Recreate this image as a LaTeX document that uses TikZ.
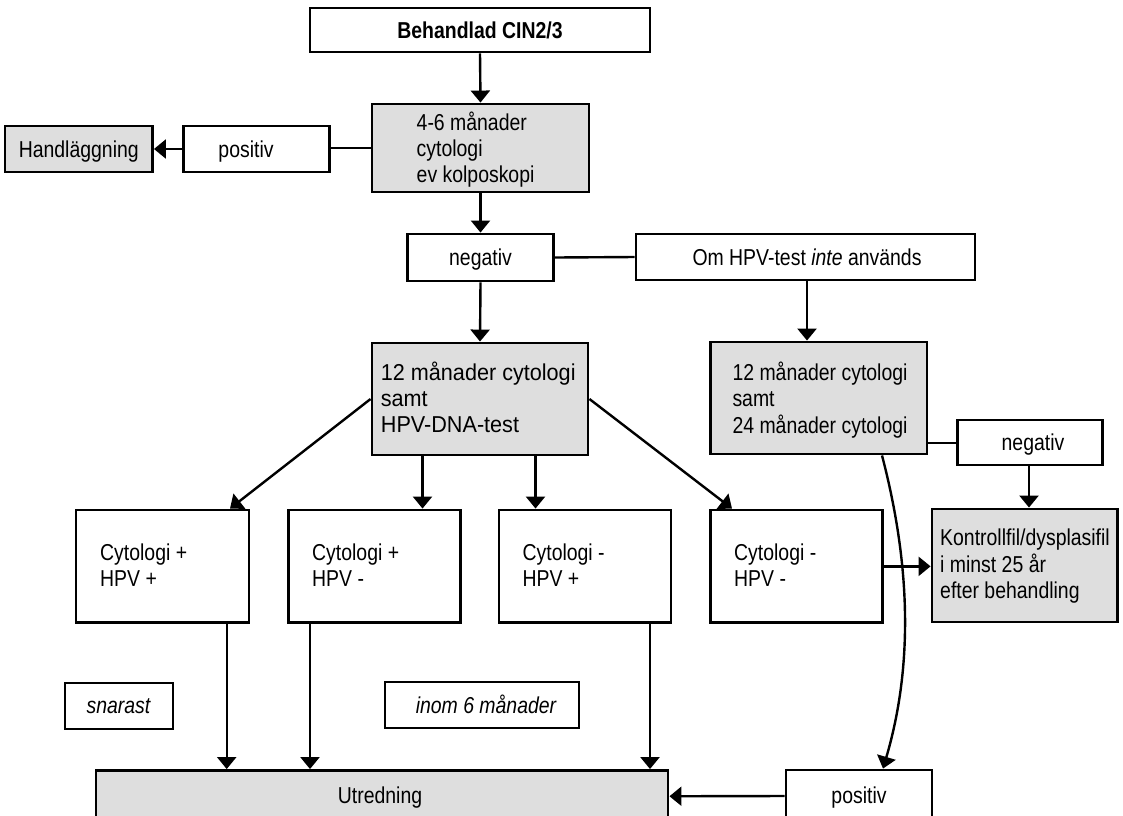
\documentclass[tikz,border=0pt]{standalone}
\usepackage{fontspec}
\setmainfont[FakeStretch=0.845]{Liberation Sans}
\newfontfamily\widefont[FakeStretch=0.94]{Liberation Sans}
\usetikzlibrary{arrows.meta}
\definecolor{boxgray}{RGB}{222,222,222}
\newcommand\mlines[1]{\begin{tabular}[t]{@{}l@{}}#1\end{tabular}}
\begin{document}
\begin{tikzpicture}[x=1pt,y=-1pt,
  font=\fontsize{23}{26}\selectfont,
  box/.style={draw, line width=2.9pt, inner sep=0pt, fill=white},
  gbox/.style={box, fill=boxgray},
  ln/.style={line width=2.4pt},
  arr/.style={ln, -{Triangle[width=19pt,length=12pt]}},
  lt/.style={inner sep=0pt, anchor=base west},
  ct/.style={inner sep=0pt, anchor=base}]
\fill[white] (0,0) rectangle (1123,815);
\useasboundingbox (0,0) rectangle (1123,815);

% boxes
\node[box,  minimum width=340pt, minimum height=44pt] (beh) at (480,30) {};
\node[gbox, minimum width=217pt, minimum height=88pt] (b46) at (480.5,148) {};
\node[gbox, minimum width=147.5pt, minimum height=46pt] (hand) at (78.75,149) {};
\node[box,  minimum width=146pt, minimum height=46pt] (pos1) at (256.5,149) {};
\node[box,  minimum width=146pt, minimum height=47pt] (neg1) at (480.5,257.5) {};
\node[box,  minimum width=339pt, minimum height=46pt] (om) at (805.5,257) {};
\node[gbox, minimum width=216pt, minimum height=112pt] (b12) at (480,399) {};
\node[gbox, minimum width=216.5pt, minimum height=112pt] (b24) at (818.75,398) {};
\node[box,  minimum width=145pt, minimum height=45pt] (neg2) at (1030,442.5) {};
\node[box,  minimum width=173pt, minimum height=112.7pt] (c1) at (162.5,566.35) {};
\node[box,  minimum width=172.2pt, minimum height=112.7pt] (c2) at (374.7,566.35) {};
\node[box,  minimum width=172pt, minimum height=112.7pt] (c3) at (585,566.35) {};
\node[box,  minimum width=172.2pt, minimum height=112.7pt] (c4) at (796.6,566.35) {};
\node[gbox, minimum width=185.5pt, minimum height=113pt] (kon) at (1024.75,565.5) {};
\node[box,  minimum width=108pt, minimum height=46pt] (sna) at (119,706) {};
\node[box,  minimum width=194pt, minimum height=46pt] (inom) at (482,705) {};
\node[gbox, minimum width=572pt, minimum height=51.5pt] (utr) at (382,796.25) {};
\node[box,  minimum width=146pt, minimum height=52pt] (posb) at (859,796) {};

% texts
\node[ct] (tbeh) at (480,38) {\bfseries Behandlad CIN2/3};
\node[lt] (t46) at (416.5,130) {\mlines{4-6 månader\\cytologi\\ev kolposkopi}};
\node[ct] (thand) at (78.75,157) {Handläggning};
\node[ct] (tpos1) at (246,157) {positiv};
\node[ct] (tneg1) at (480.5,265.5) {negativ};
\node[ct] (tom) at (807,265) {Om HPV-test \textit{inte} används};
\node[lt] (t12) at (380.7,380) {\widefont\mlines{12 månader cytologi\\samt\\HPV-DNA-test}};
\node[lt] (t24) at (732.3,380.7) {\mlines{12 månader cytologi\\samt\\24 månader cytologi}};
\node[ct] (tneg2) at (1033,450.7) {negativ};
\node[lt] (tc1) at (100,560) {\mlines{Cytologi +\\HPV +}};
\node[lt] (tc2) at (312,560) {\mlines{Cytologi +\\HPV -}};
\node[lt] (tc3) at (522.4,560) {\mlines{Cytologi -\\HPV +}};
\node[lt] (tc4) at (734,560) {\mlines{Cytologi -\\HPV -}};
\node[lt] (tkon) at (940,545.7) {\mlines{Kontrollfil/dysplasifil\\i minst 25 år\\efter behandling}};
\node[ct] (tsna) at (118.5,713) {\itshape snarast};
\node[ct] (tinom) at (486,713) {\itshape inom 6 månader};
\node[ct] (tutr) at (380,803) {Utredning};
\node[ct] (tposb) at (859,803) {positiv};

% helper coordinates
\coordinate (xom) at (807,0);
\coordinate (xd1) at (230,0);
\coordinate (xd4) at (732,0);
\coordinate (xv2) at (422.5,0);
\coordinate (xv3) at (535.5,0);
\coordinate (xu1) at (226.7,0);
\coordinate (xu2) at (310,0);
\coordinate (xu3) at (650,0);
\coordinate (yn2) at (0,443);
\coordinate (xk) at (1029,0);
\coordinate (xc) at (882,0);
\coordinate (xc2) at (883,0);

% connectors
\draw[arr] (beh.south) -- (b46.north);
\draw[ln] (b46.west) -- (b46.west -| pos1.east);
\draw[arr] (pos1.west) -- (hand.east);
\draw[arr] (b46.south) -- (neg1.north);
\draw[ln] (neg1.east) -- (om.west);
\draw[arr] (neg1.south) -- (b12.north);
\draw[arr] (om.south -| xom) -- (b24.north -| xom);
\draw[arr] (b12.west) -- (c1.north -| xd1);
\draw[arr] (b12.east) -- (c4.north -| xd4);
\draw[arr] (b12.south -| xv2) -- (c2.north -| xv2);
\draw[arr] (b12.south -| xv3) -- (c3.north -| xv3);
\draw[arr] (c1.south -| xu1) -- (utr.north -| xu1);
\draw[arr] (c2.south -| xu2) -- (utr.north -| xu2);
\draw[arr] (c3.south -| xu3) -- (utr.north -| xu3);
\draw[ln] (b24.east |- yn2) -- (neg2.west |- yn2);
\draw[arr] (neg2.south -| xk) -- (kon.north -| xk);
\draw[arr] (c4.east) -- (c4.east -| kon.west);
\draw[arr] (b24.south -| xc) .. controls (912,570) and (912,670) .. (posb.north -| xc2);
\draw[arr] (posb.west) -- (utr.east);
\end{tikzpicture}
\end{document}
